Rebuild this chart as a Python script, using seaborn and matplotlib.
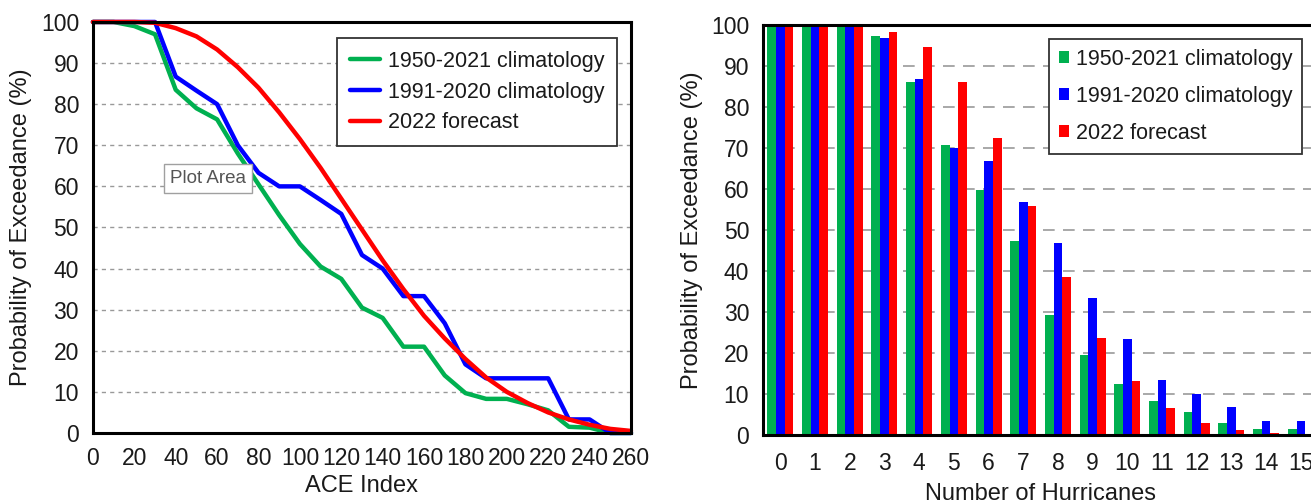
import pandas as pd
import numpy as np
import matplotlib
matplotlib.use("Agg")
import matplotlib.pyplot as plt
import seaborn as sns

# -------------------------------
# Data
# -------------------------------
ace_index = list(range(0, 261, 10))
ace_1950_2021 = [100, 100, 99, 97, 83.5, 79, 76.3, 68, 60.5, 53, 46, 40.5, 37.5, 30.5,
                 28, 21, 21, 14, 9.7, 8.3, 8.3, 7, 5.5, 1.5, 1.3, 0, 0]
ace_1991_2020 = [100, 100, 100, 100, 86.7, 83.3, 80, 70, 63.3, 60, 60, 56.7, 53.3, 43.3,
                 40, 33.3, 33.3, 26.7, 16.7, 13.3, 13.3, 13.3, 13.3, 3.3, 3.3, 0, 0]
ace_2022 = [100, 100, 100, 99.8, 98.5, 96.5, 93.3, 89, 84, 78, 71.5, 64.5, 57, 49.5,
            42, 35, 28.5, 23, 18, 13.5, 10, 7.3, 5, 3.3, 2, 1, 0.5]

hurricanes = list(range(16))
hur_1950_2021 = [100, 100, 100, 97.2, 86.1, 70.8, 59.7, 47.2, 29.2, 19.4, 12.5, 8.3, 5.6, 2.8, 1.4, 1.4]
hur_1991_2020 = [100, 100, 100, 96.7, 86.7, 70, 66.7, 56.7, 46.7, 33.3, 23.3, 13.3, 10, 6.7, 3.3, 3.3]
hur_2022 = [100, 100, 100, 98.4, 94.5, 86.1, 72.5, 55.8, 38.6, 23.7, 13.2, 6.6, 3.0, 1.2, 0.5, 0.2]

series_names = ["1950-2021 climatology", "1991-2020 climatology", "2022 forecast"]
colors = ["#00B050", "#0000FF", "#FF0000"]

ace_df = pd.DataFrame({
    "ACE": ace_index * 3,
    "prob": ace_1950_2021 + ace_1991_2020 + ace_2022,
    "series": [s for s in series_names for _ in ace_index],
})
hur_df = pd.DataFrame({
    "n": hurricanes * 3,
    "prob": hur_1950_2021 + hur_1991_2020 + hur_2022,
    "series": [s for s in series_names for _ in hurricanes],
})

# -------------------------------
# Style
# -------------------------------
sns.set_style("white")
plt.rcParams["font.family"] = ["Liberation Sans", "DejaVu Sans"]
plt.rcParams["text.color"] = "#1a1a1a"
plt.rcParams["axes.labelcolor"] = "#1a1a1a"
plt.rcParams["xtick.color"] = "black"
plt.rcParams["ytick.color"] = "black"
plt.rcParams["xtick.labelcolor"] = "#1a1a1a"
plt.rcParams["ytick.labelcolor"] = "#1a1a1a"

fig = plt.figure(figsize=(13.11, 5.04), dpi=100)
ax1 = fig.add_axes([0.0709, 0.1409, 0.4104, 0.8155])
ax2 = fig.add_axes([0.582, 0.137, 0.4235, 0.8135])

tick_fs = 16.5
label_fs = 17
legend_fs = 15.5

# -------------------------------
# Left: ACE index exceedance curves
# -------------------------------
sns.lineplot(data=ace_df, x="ACE", y="prob", hue="series", palette=colors,
             linewidth=3.2, ax=ax1, zorder=3, clip_on=False)
ax1.set_xlim(0, 260)
ax1.set_ylim(0, 100)
ax1.set_xticks(range(0, 261, 20))
ax1.set_yticks(range(0, 101, 10))
for y in range(10, 100, 10):
    ax1.axhline(y, color="#999999", lw=1, ls=(0, (3, 3)), zorder=1)
ax1.set_xlabel("ACE Index", fontsize=label_fs, labelpad=4)
ax1.set_ylabel("Probability of Exceedance (%)", fontsize=label_fs, labelpad=6)
ax1.tick_params(axis="both", direction="out", length=6, width=2, labelsize=tick_fs, pad=4)
for sp in ax1.spines.values():
    sp.set_linewidth(2.2)
    sp.set_color("black")
    sp.set_zorder(4)
ax1.legend(loc="upper right", bbox_to_anchor=(0.974, 0.961), borderaxespad=0,
           fontsize=legend_fs, frameon=True, fancybox=False, edgecolor="#333333",
           framealpha=1, handlelength=1.4, handletextpad=0.35, labelspacing=0.45,
           borderpad=0.6)
ax1.get_legend().get_frame().set_linewidth(1.3)

# Excel "Plot Area" tooltip captured in the screenshot
ax1.text(0.214, 0.618, "Plot Area", transform=ax1.transAxes, fontsize=13.5,
         color="#555555", ha="center", va="center", zorder=6,
         bbox=dict(boxstyle="square,pad=0.32", fc="white", ec="#a0a0a0", lw=1))

# -------------------------------
# Right: number of hurricanes exceedance bars
# -------------------------------
sns.barplot(data=hur_df, x="n", y="prob", hue="series", palette=colors, saturation=1,
            width=0.75, ax=ax2, zorder=3, edgecolor="none", linewidth=0)
ax2.set_xlim(-0.5, 15.5)
ax2.set_ylim(0, 100)
ax2.set_yticks(range(0, 101, 10))
ax2.set_xticks(hurricanes)
ax2.set_xticklabels([str(h) for h in hurricanes])
ax2.set_xticks(np.arange(0.5, 15.5, 1), minor=True)
for y in range(10, 100, 10):
    ax2.axhline(y, color="#999999", lw=1.2, ls=(0, (7, 5)), zorder=1)
ax2.set_xlabel("Number of Hurricanes", fontsize=label_fs, labelpad=6)
ax2.set_ylabel("Probability of Exceedance (%)", fontsize=label_fs, labelpad=6)
ax2.tick_params(axis="y", direction="out", length=6, width=2, labelsize=tick_fs, pad=4)
ax2.tick_params(axis="x", which="major", length=0, labelsize=tick_fs, pad=12)
ax2.tick_params(axis="x", which="minor", direction="out", length=5, width=2)
for sp in ax2.spines.values():
    sp.set_linewidth(2.2)
    sp.set_color("black")
    sp.set_zorder(4)
ax2.legend(loc="upper right", bbox_to_anchor=(0.971, 0.966), borderaxespad=0,
           fontsize=legend_fs, frameon=True, fancybox=False, edgecolor="#333333",
           framealpha=1, handlelength=0.5, handleheight=0.5, handletextpad=0.3,
           labelspacing=0.75, borderpad=0.45)
ax2.get_legend().get_frame().set_linewidth(1.3)

plt.savefig("out.png", dpi=100)
plt.close()
